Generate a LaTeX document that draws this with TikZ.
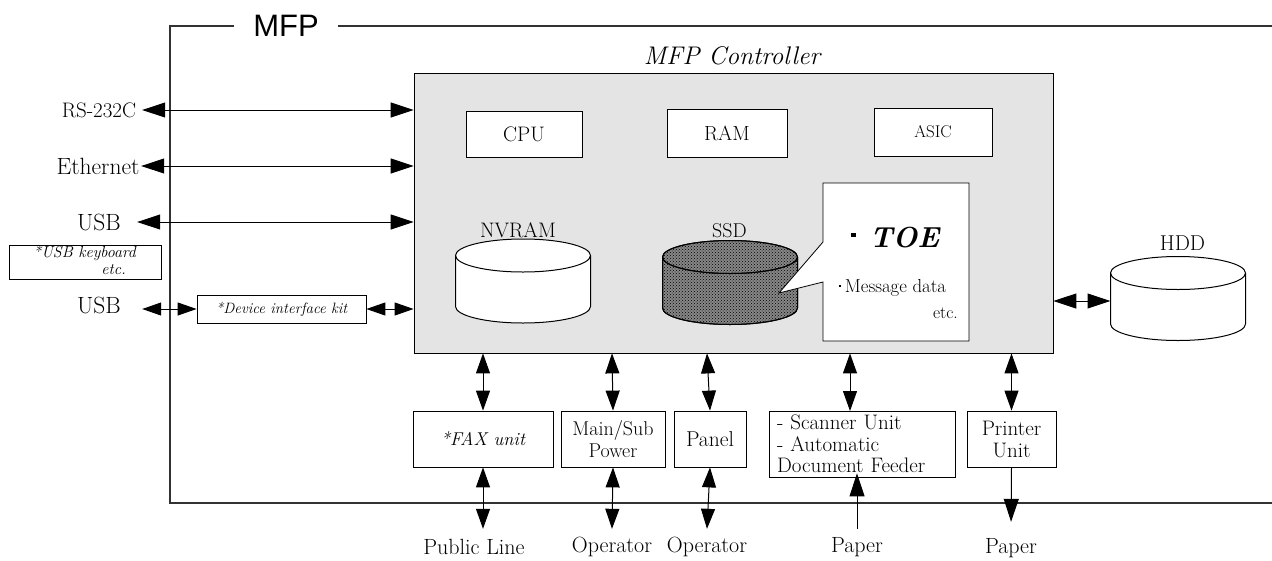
\documentclass[tikz,border=0pt]{standalone}
\usepackage{fontspec}
\usepackage{amsmath}
\usetikzlibrary{arrows.meta,patterns}
\newfontfamily\mfpfont{Liberation Sans}
\definecolor{ctrlgray}{RGB}{228,228,228}
\definecolor{framegray}{RGB}{50,50,50}
\definecolor{ssdgray}{RGB}{135,135,135}
\newcommand{\fs}[1]{\fontsize{#1}{#1}\selectfont}
\tikzset{
  box/.style={draw, rectangle, inner sep=0pt, fill=white, line width=0.8pt, align=center},
  biglink/.style={{Triangle[length=23pt,width=15pt]}-{Triangle[length=23pt,width=15pt]}, line width=1pt},
  vlink/.style={{Triangle[length=20pt,width=14pt]}-{Triangle[length=20pt,width=14pt]}, line width=1pt},
  smalllink/.style={{Triangle[length=19pt,width=13pt]}-{Triangle[length=19pt,width=13pt]}, line width=1pt},
  outlink/.style={-{Triangle[length=23pt,width=15pt]}, line width=1pt},
  bottomlbl/.style={font=\fs{22}, minimum height=36pt, inner sep=0pt},
  pics/drum/.style={code={
    \draw[pic actions, line width=1pt] (-67.5,-25.5) -- (-67.5,25.5) arc[start angle=180, end angle=360, x radius=67.5pt, y radius=16.5pt] -- (67.5,-25.5) arc[start angle=0, end angle=180, x radius=67.5pt, y radius=16.5pt] -- cycle;
    \draw[line width=1pt] (-67.5,-25.5) arc[start angle=180, end angle=360, x radius=67.5pt, y radius=16.5pt];
    \coordinate (-west) at (-67.5,2.5);
  }}
}

\begin{document}
\begin{tikzpicture}[x=1pt, y=-1pt]
\useasboundingbox (0,0) rectangle (1272,560);
% MFP frame
\node[minimum width=104pt, inner sep=0pt, font={\mfpfont\fs{31}}] (mfp) at (286,26) {MFP};
\draw[framegray, line width=1.3pt] (mfp.west) -- (170,26) -- (170,503) -- (1272,503);
\draw[framegray, line width=1.3pt] (mfp.east) -- (1272,26);

% Controller and its parts
\node[draw, rectangle, fill=ctrlgray, line width=0.8pt, minimum width=639pt, minimum height=280pt, inner sep=0pt] (ctrl) at (733.5,213) {};
\node[font=\fs{25.5}\itshape] (ctrltxt) at (732,56) {MFP Controller};
\node[box, minimum width=116pt, minimum height=46pt, font=\fs{21}] (cpu) at (524,134) {CPU};
\node[box, minimum width=120pt, minimum height=48pt, font=\fs{20.5}] (ram) at (727,133) {RAM};
\node[box, minimum width=118pt, minimum height=48pt, font=\fs{17}] (asic) at (933,132) {ASIC};

\pic[fill=white] (nvram) at (523,281) {drum};
\node[font=\fs{21}] (nvramtxt) at (518,230) {NVRAM};
\pic[fill=ssdgray] (ssd) at (730,282.5) {drum};
\pic[pattern=crosshatch dots, pattern color=black] (ssddots) at (730,282.5) {drum};
\node[font=\fs{20}] (ssdtxt) at (729.5,231) {SSD};

% Callout
\draw[fill=white, line width=0.8pt] (823,183) -- (969,183) -- (969,341) -- (823,341) -- (823,282) -- (779,293) -- (823,242) -- cycle;
\node[rectangle, fill=black, inner sep=0pt, minimum width=5pt, minimum height=4pt] (toedot) at (853,235) {};
\node[font=\fs{29}\bfseries\itshape] (toe) at (904.5,238) {TOE};
\node[rectangle, fill=black, inner sep=0pt, minimum size=2.5pt] (msgdot) at (840,286) {};
\node[font=\fs{18.8}] (msg) at (895.5,288) {Message data};
\node[font=\fs{17.5}, anchor=east, inner sep=0pt] (toeetc) at (958,313) {etc.};

% Left side
\node[minimum width=86pt, inner sep=0pt, font=\fs{21}] (rs) at (99,110) {RS-232C};
\node[minimum width=86pt, inner sep=0pt, font=\fs{23.5}] (eth) at (98,166) {Ethernet};
\node[minimum width=76pt, inner sep=0pt, font=\fs{23.5}] (usbup) at (99,222) {USB};
\node[minimum width=86pt, inner sep=0pt, font=\fs{23.5}] (usblow) at (99,305) {USB};
\node[box, minimum width=152pt, minimum height=34pt] (kbd) at (85,262) {};
\node[font=\fs{16}\itshape, anchor=east, inner sep=0pt] (kbdtxt) at (136,253) {*USB keyboard};
\node[font=\fs{16}\itshape, anchor=east, inner sep=0pt] (kbdetc) at (126,270) {etc.};
\node[box, minimum width=169pt, minimum height=28pt, font=\fs{15}\itshape] (kit) at (281.5,309) {*Device interface kit};

\draw[biglink] (rs.east) -- (rs.east -| ctrl.west);
\draw[biglink] (eth.east) -- (eth.east -| ctrl.west);
\draw[biglink] (usbup.east) -- (usbup.east -| ctrl.west);
\draw[smalllink] (usblow.east |- kit.west) -- (kit.west);
\draw[smalllink] (kit.east) -- (kit.east -| ctrl.west);

% HDD
\pic[fill=white] (hdd) at (1178,298.5) {drum};
\node[font=\fs{21.5}] (hddtxt) at (1182.5,243) {HDD};
\draw[biglink] (hdd-west) -- (hdd-west -| ctrl.east);

% Bottom units
\node[box, minimum width=140pt, minimum height=56pt, font=\fs{18.5}\itshape] (fax) at (483,439) {*FAX unit};
\node[box, minimum width=104pt, minimum height=56pt, font=\fs{20}] (power) at (613,439) {Main/Sub\\[2pt]Power};
\node[box, minimum width=72pt, minimum height=56pt, font=\fs{21.5}] (panel) at (710,439) {Panel};
\node[box, minimum width=186pt, minimum height=66pt, font=\fs{21}, align=left, text width=170pt] (scan) at (862,444) {- Scanner Unit\\[0.5pt]- Automatic\\[0.5pt]Document Feeder};
\node[box, minimum width=89pt, minimum height=56pt, font=\fs{21}] (printer) at (1011.5,439) {Printer\\[1pt]Unit};

\node[bottomlbl] (pub) at (474,547) {Public Line};
\node[bottomlbl] (op1) at (612,547) {Operator};
\node[bottomlbl] (op2) at (707,547) {Operator};
\node[bottomlbl] (paper1) at (857,547) {Paper};
\node[bottomlbl] (paper2) at (1011,548) {Paper};
\coordinate (scanin) at (850,411);

\draw[vlink] (fax.north |- ctrl.south) -- (fax.north);
\draw[vlink] (op1.north |- ctrl.south) -- (power.north);
\draw[vlink] (op2.north |- ctrl.south) -- (panel.north);
\draw[vlink] (scanin |- ctrl.south) -- (scanin);
\draw[vlink] (printer.north |- ctrl.south) -- (printer.north);

\draw[vlink] (fax.south) -- (fax.south |- pub.north);
\draw[vlink] (power.south) -- (op1.north);
\draw[vlink] (panel.south) -- (op2.north);
\draw[outlink, shorten >=-4pt] (paper1.north) -- (paper1.north |- scan.south);
\draw[outlink, shorten >=8pt] (printer.south) -- (paper2.north);
\end{tikzpicture}
\end{document}
